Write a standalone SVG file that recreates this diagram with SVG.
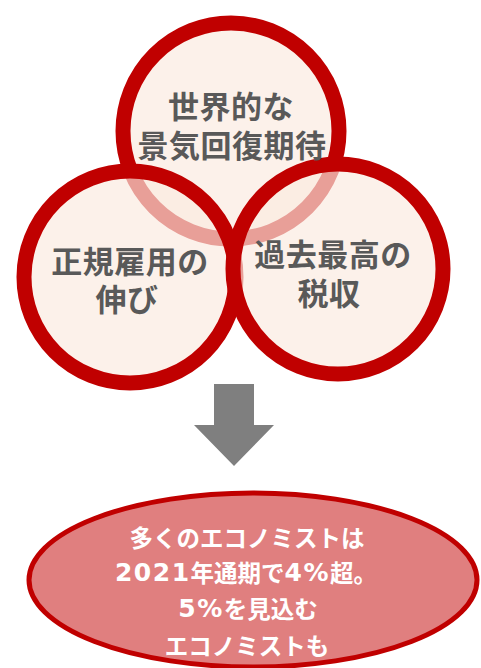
<svg xmlns="http://www.w3.org/2000/svg" width="481" height="668" viewBox="0 0 481 668">
<style>
.c{fill:rgba(251,235,224,0.68);stroke:#C00000;stroke-width:15}
.t{font-family:"Noto Sans CJK JP","Noto Sans",sans-serif;font-weight:bold;font-size:31px;letter-spacing:0.5px;fill:#595959;text-anchor:middle;dominant-baseline:central}
.w{font-family:"Noto Sans CJK JP","Noto Sans",sans-serif;font-weight:bold;font-size:23.5px;fill:#FFFFFF;text-anchor:middle;dominant-baseline:central}
.n{font-family:"DejaVu Sans",sans-serif;font-size:25px;letter-spacing:1.5px}
</style>
<rect width="481" height="668" fill="#FFFFFF"/>
<g id="node-top">
<circle class="c" cx="231" cy="131" r="108"/>
</g>
<g id="node-left">
<circle class="c" cx="130" cy="277" r="106"/>
</g>
<g id="node-right">
<circle class="c" cx="338" cy="269" r="105"/>
</g>
<g id="labels">
<text class="t" x="231" y="104">世界的な</text>
<text class="t" x="232" y="143">景気回復期待</text>
<text class="t" x="130" y="259">正規雇用の</text>
<text class="t" x="127" y="297">伸び</text>
<text class="t" x="333" y="252">過去最高の</text>
<text class="t" x="329" y="291">税収</text>
</g>
<g id="connectors">
<polygon points="214,384 254,384 254,425 274,425 234,466 194,425 214,425" fill="#7F7F7F"/>
</g>
<g id="node-result">
<ellipse cx="253" cy="580" rx="224" ry="87" fill="#E07F7F" stroke="#C00000" stroke-width="5"/>
<text class="w" x="247" y="537">多くのエコノミストは</text>
<text class="w" x="246" y="572"><tspan class="n">2021</tspan>年通期で<tspan class="n">4%</tspan>超。</text>
<text class="w" x="248" y="608"><tspan class="n">5%</tspan>を見込む</text>
<text class="w" x="247" y="645">エコノミストも</text>
</g>
</svg>
